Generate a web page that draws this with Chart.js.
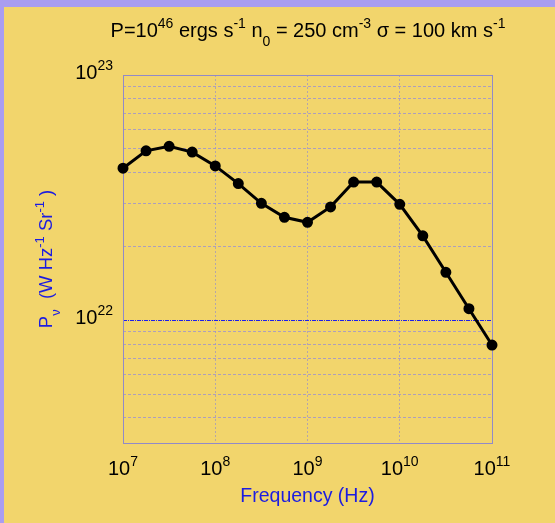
<!DOCTYPE html>
<html>
<head>
<meta charset="utf-8">
<script src="https://cdn.jsdelivr.net/npm/chart.js@4"></script>
<style>
  html, body { margin: 0; padding: 0; background: #f2d56c; }
  #wrap { position: absolute; left: 0; top: 0; width: 555px; height: 523px; }
</style>
</head>
<body>
<div id="wrap"><canvas id="c" width="555" height="523"></canvas></div>
<script>
// Frequencies (Hz), quarter-decade steps from 10^7 to 10^11
const frequencies = [1e7, 1.778e7, 3.162e7, 5.623e7, 1e8, 1.778e8, 3.162e8, 5.623e8,
                     1e9, 1.778e9, 3.162e9, 5.623e9, 1e10, 1.778e10, 3.162e10, 5.623e10, 1e11];
// Spectral power P_nu (W Hz^-1 Sr^-1)
const power = [4.17e22, 4.91e22, 5.12e22, 4.85e22, 4.26e22, 3.61e22, 3.00e22, 2.63e22,
               2.51e22, 2.90e22, 3.66e22, 3.66e22, 2.97e22, 2.21e22, 1.57e22, 1.115e22, 7.93e21];

// Axis ticks
const xMajorTicks = [1e7, 1e8, 1e9, 1e10, 1e11];
const xTickExponents = ['7', '8', '9', '10', '11'];
const yGridTicks = [4e21, 5e21, 6e21, 7e21, 8e21, 9e21, 1e22,
                    2e22, 3e22, 4e22, 5e22, 6e22, 7e22, 8e22, 9e22, 1e23];
const yLabelTicks = [1e22, 1e23];
const yTickExponents = ['22', '23'];

const FONT = '"Liberation Sans", Arial, Helvetica, sans-serif';
const GRID_H = 'rgba(150,140,215,0.75)';
const GRID_V = 'rgba(160,150,190,0.75)';
const FRAME = 'rgb(145,138,200)';
const BLUE = 'rgb(28,28,225)';

// Draw a run of text pieces: mode 0 = normal, 1 = superscript, -1 = subscript
function richWidth(ctx, parts, size) {
  let w = 0;
  for (const [t, m] of parts) {
    ctx.font = (m ? size * 0.7 : size) + 'px ' + FONT;
    w += ctx.measureText(t).width;
  }
  return w;
}
function drawRich(ctx, parts, x, y, size, color, align) {
  const w = richWidth(ctx, parts, size);
  let cx = align === 'center' ? x - w / 2 : (align === 'right' ? x - w : x);
  ctx.fillStyle = color;
  ctx.textBaseline = 'alphabetic';
  ctx.textAlign = 'left';
  for (const [t, m] of parts) {
    ctx.font = (m ? size * 0.7 : size) + 'px ' + FONT;
    const dy = m === 1 ? -size * 0.45 : (m === -1 ? size * 0.45 : 0);
    ctx.fillText(t, cx, y + dy);
    cx += ctx.measureText(t).width;
  }
}

const decorations = {
  id: 'decorations',
  beforeDraw(chart) {
    const ctx = chart.ctx;
    ctx.save();
    ctx.fillStyle = '#a99df0';
    ctx.fillRect(0, 0, chart.width, chart.height);
    ctx.fillStyle = '#f2d56c';
    ctx.fillRect(4, 7, chart.width - 4, chart.height - 7);
    ctx.restore();
  },
  beforeDatasetsDraw(chart) {
    const ctx = chart.ctx, a = chart.chartArea;
    ctx.save();
    ctx.strokeStyle = FRAME;
    ctx.lineWidth = 1;
    ctx.setLineDash([]);
    ctx.strokeRect(Math.round(a.left) + 0.5, Math.round(a.top) + 0.5,
                   Math.round(a.right - a.left), Math.round(a.bottom - a.top));
    ctx.restore();
  },
  afterDraw(chart) {
    const ctx = chart.ctx, a = chart.chartArea;
    const xs = chart.scales.x, ys = chart.scales.y;
    ctx.save();
    // title
    drawRich(ctx, [['P=10', 0], ['46', 1], [' ergs s', 0], ['-1', 1], [' n', 0], ['0', -1],
                   [' = 250 cm', 0], ['-3', 1], [' \u03c3 = 100 km s', 0], ['-1', 1]],
             308, 37, 20, '#000', 'center');
    // x tick labels
    xMajorTicks.forEach((v, i) => {
      const px = xs.getPixelForValue(v);
      drawRich(ctx, [['10', 0], [xTickExponents[i], 1]], px, a.bottom + 32, 20, '#000', 'center');
    });
    // y tick labels
    yLabelTicks.forEach((v, i) => {
      const py = ys.getPixelForValue(v);
      drawRich(ctx, [['10', 0], [yTickExponents[i], 1]], a.left - 10, py + 4, 20, '#000', 'right');
    });
    // x axis title
    drawRich(ctx, [['Frequency (Hz)', 0]], (a.left + a.right) / 2, 502, 19.5, BLUE, 'center');
    // y axis title
    ctx.translate(52, 259);
    ctx.rotate(-Math.PI / 2);
    drawRich(ctx, [['P', 0], ['\u03bd', -1], ['  (W Hz', 0], ['-1', 1], [' Sr', 0], ['-1', 1], [' )', 0]],
             0, 0, 18.5, BLUE, 'center');
    ctx.restore();
  }
};

const zeroSize = s => { if (s.isHorizontal()) s.height = 0; else s.width = 0; };

new Chart(document.getElementById('c'), {
  type: 'line',
  data: {
    datasets: [{
      data: frequencies.map((f, i) => ({ x: f, y: power[i] })),
      borderColor: '#000',
      backgroundColor: '#000',
      borderWidth: 3,
      pointRadius: 4,
      pointHoverRadius: 4,
      pointBackgroundColor: '#000',
      pointBorderColor: '#000',
      tension: 0,
      clip: false
    }]
  },
  options: {
    responsive: false,
    animation: false,
    events: [],
    layout: { padding: { left: 123, top: 75, right: 63, bottom: 80 } },
    plugins: { legend: { display: false }, tooltip: { enabled: false }, title: { display: false } },
    scales: {
      x: {
        type: 'logarithmic',
        min: 1e7, max: 1e11,
        afterBuildTicks: s => { s.ticks = xMajorTicks.map(v => ({ value: v })); },
        afterFit: zeroSize,
        ticks: { display: false },
        grid: { color: GRID_V, lineWidth: 1, drawTicks: false },
        border: { display: false, dash: [2, 2] }
      },
      y: {
        type: 'logarithmic',
        min: Math.pow(10, 21.5), max: 1e23,
        afterBuildTicks: s => { s.ticks = yGridTicks.map(v => ({ value: v })); },
        afterFit: zeroSize,
        ticks: { display: false },
        grid: {
          color: ctx => (ctx.tick && ctx.tick.value === 1e22) ? 'rgb(30,30,235)' : GRID_H,
          lineWidth: 1,
          drawTicks: false
        },
        border: {
          display: false,
          dash: ctx => (ctx.tick && ctx.tick.value === 1e22) ? [4, 1, 1, 1] : [3, 2]
        }
      }
    }
  },
  plugins: [decorations]
});
</script>
</body>
</html>
